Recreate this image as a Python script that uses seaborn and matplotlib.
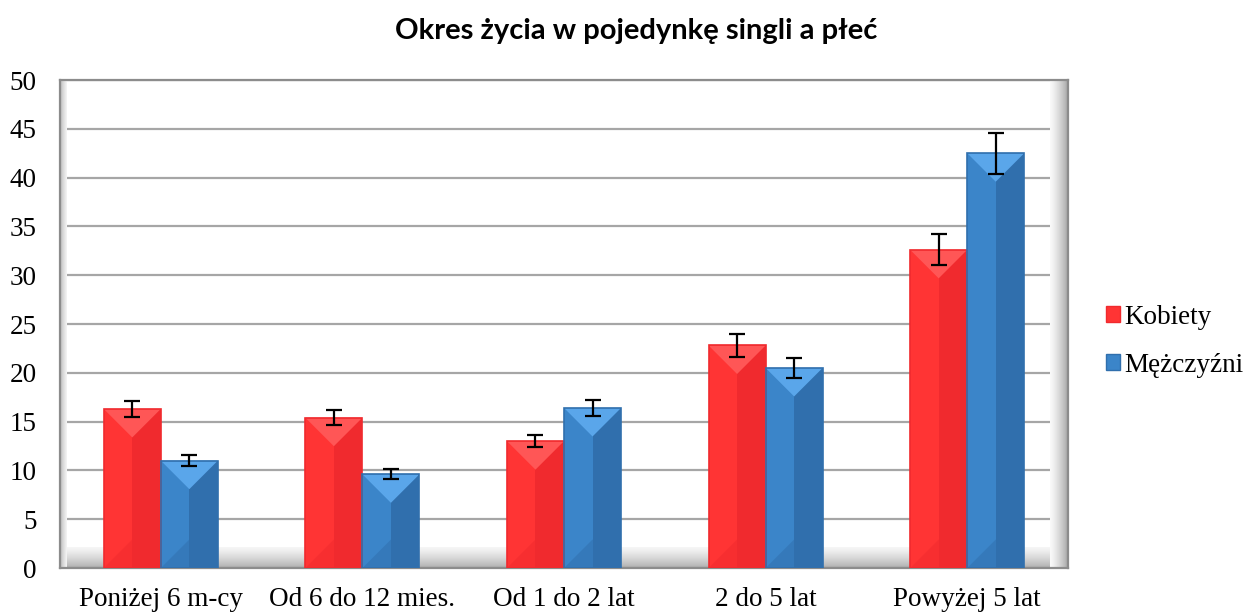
import numpy as np
import pandas as pd
import matplotlib
matplotlib.use('Agg')
import matplotlib.pyplot as plt
from matplotlib.patches import Polygon, Rectangle
import seaborn as sns

# dane
okresy = ['Poniżej 6 m-cy', 'Od 6 do 12 mies.', 'Od 1 do 2 lat', '2 do 5 lat', 'Powyżej 5 lat']
kobiety = [16.3, 15.4, 13.0, 22.8, 32.6]
mezczyzni = [11.0, 9.6, 16.4, 20.5, 42.5]
blad_kobiety = [0.8, 0.77, 0.65, 1.15, 1.6]
blad_mezczyzni = [0.55, 0.5, 0.82, 1.0, 2.1]
plcie = ['Kobiety', 'Mężczyźni']

df = pd.DataFrame({
    'okres': okresy * 2,
    'wartosc': kobiety + mezczyzni,
    'plec': [plcie[0]] * 5 + [plcie[1]] * 5,
})

kolory = {'Kobiety': '#FF3434', 'Mężczyźni': '#3B85C9'}
ciemne = {'Kobiety': '#F02A2E', 'Mężczyźni': '#306FAD'}
jasne = {'Kobiety': '#FF5656', 'Mężczyźni': '#5AA6EA'}

sns.set_style('white')
plt.rcParams['font.family'] = ['Liberation Serif', 'DejaVu Serif']
plt.rcParams['text.color'] = 'black'
plt.rcParams['xtick.color'] = 'black'
plt.rcParams['ytick.color'] = 'black'

fig = plt.figure(figsize=(12.49, 6.12), dpi=100)
ax = fig.add_axes([60 / 1249, 44 / 612, 1008 / 1249, 488 / 612])

sns.barplot(data=df, x='okres', y='wartosc', hue='plec', palette=kolory,
            width=0.566, saturation=1, ax=ax, legend=False, zorder=3,
            edgecolor='none')

ax.set_ylim(0, 50)
ax.set_xlim(-0.5, 4.5)
ax.set_yticks(np.arange(0, 51, 5))
ax.yaxis.grid(True, color='#A6A6A6', linewidth=1.6, zorder=1)
ax.set_axisbelow(True)
ax.set_xlabel('')
ax.set_ylabel('')
ax.tick_params(axis='y', length=0, pad=17, labelsize=19.5)
ax.tick_params(axis='x', length=0, pad=14, labelsize=19.5)
for s in ax.spines.values():
    s.set_color('#8C8C8C')
    s.set_linewidth(1.6)

# cieniowanie tylnej sciany i podlogi
grad = np.linspace(0, 1, 64)
ax.imshow(np.tile(grad, (2, 1)).T, cmap='Greys', vmin=-0.2, vmax=2.6,
          extent=[0, 1, 0, 0.042], transform=ax.transAxes, aspect='auto',
          zorder=0.5)
ax.imshow(np.tile(grad, (2, 1)), cmap='Greys', vmin=-0.1, vmax=2.2,
          extent=[0.982, 1.0, 0, 1], transform=ax.transAxes, aspect='auto',
          zorder=0.6)
ax.imshow(np.tile(grad[::-1], (2, 1)), cmap='Greys', vmin=-0.3, vmax=3,
          extent=[0, 0.006, 0, 1], transform=ax.transAxes, aspect='auto',
          zorder=0.6)
ax.set_xlim(-0.5, 4.5)
ax.set_ylim(0, 50)

# efekt fazowania slupkow
fig.canvas.draw()
bb = ax.get_window_extent()
px_x = bb.width / 5.0
px_y = bb.height / 50.0
for cont, plec, bledy in zip(ax.containers, plcie, [blad_kobiety, blad_mezczyzni]):
    for rect, err in zip(cont.patches, bledy):
        x0 = rect.get_x()
        w = rect.get_width()
        h = rect.get_height()
        xc = x0 + w / 2
        d = (w / 2) * px_x / px_y
        ax.add_patch(Rectangle((xc, 0), w / 2, h, facecolor=ciemne[plec],
                               edgecolor='none', zorder=3.1))
        ax.add_patch(Polygon([(x0, h), (x0 + w, h), (xc, h - d)], closed=True,
                             facecolor=jasne[plec], edgecolor='none', zorder=3.2))
        ax.add_patch(Polygon([(x0, 0), (x0 + w, 0), (xc, d)], closed=True,
                             facecolor=ciemne[plec], edgecolor='none',
                             alpha=0.5, zorder=3.2))
        ax.add_patch(Rectangle((x0, 0), w, h, facecolor='none',
                               edgecolor=ciemne[plec], linewidth=1.2, zorder=3.3))
        ax.errorbar(xc, h, yerr=err, color='black', capsize=5.5, elinewidth=1.6,
                    capthick=1.6, zorder=4)

uchwyty = [Rectangle((0, 0), 1, 1, facecolor=kolory[p], edgecolor=ciemne[p]) for p in plcie]
ax.legend(uchwyty, plcie, loc='center left', bbox_to_anchor=(1.038, 0.465),
          frameon=False, fontsize=19.5, handlelength=0.5, handleheight=0.5,
          handletextpad=0.15, labelspacing=0.85, borderpad=0, borderaxespad=0)

fig.text(636 / 1249, 1 - 31 / 612, 'Okres życia w pojedynkę singli a płeć',
         ha='center', va='center', fontsize=21, fontweight='bold',
         family=['Lato', 'DejaVu Sans'])

fig.savefig('out.png', dpi=100)
